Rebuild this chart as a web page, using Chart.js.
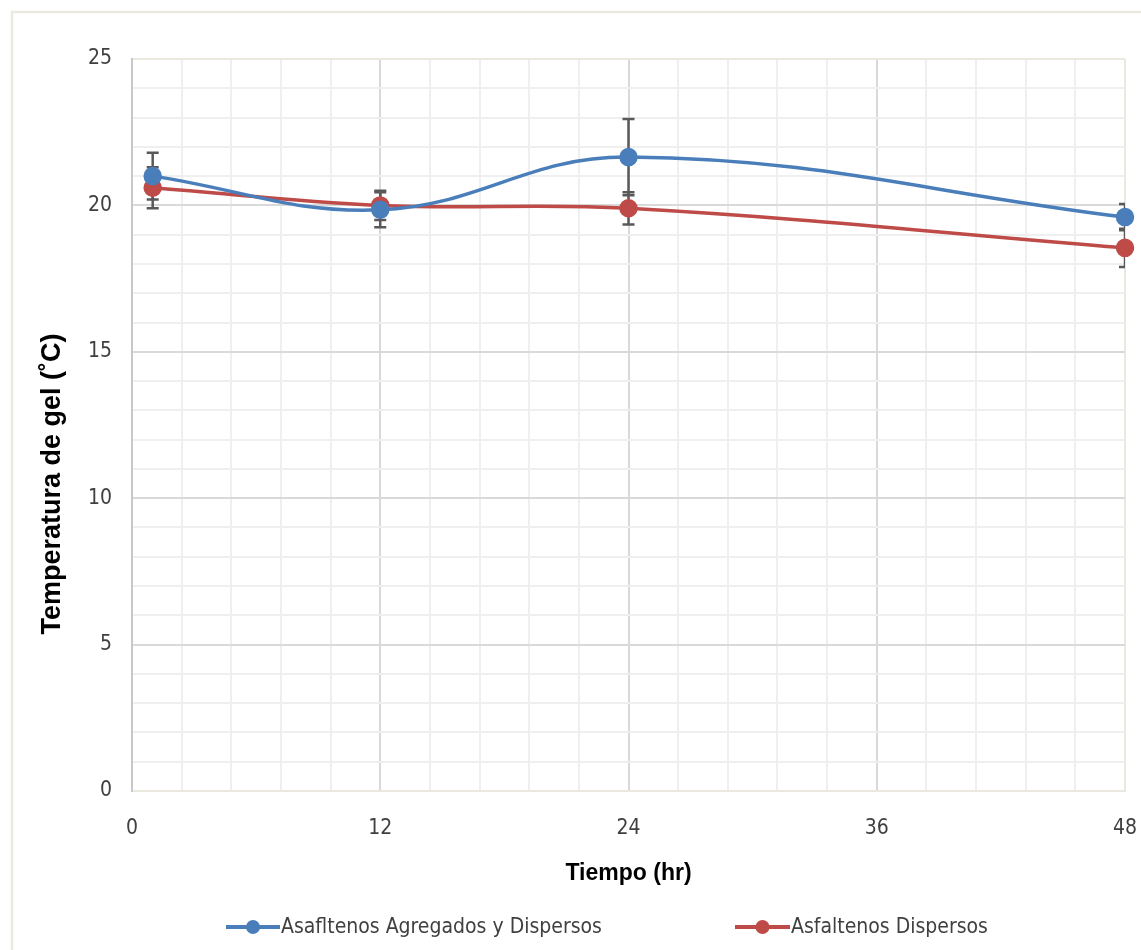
<!DOCTYPE html>
<html>
<head>
<meta charset="utf-8">
<script src="https://cdn.jsdelivr.net/npm/chart.js@4"></script>
<style>
  html, body { margin: 0; padding: 0; background: #fff; }
  canvas { display: block; }
</style>
</head>
<body>
<canvas id="chart" width="1141" height="950"></canvas>
<script>
// datos
const tiempos = [1, 12, 24, 48];
const agregadosDispersos = [21.0, 19.85, 21.65, 19.6];
const agregadosError = [0.8, 0.6, 1.3, 0.45];
const dispersos = [20.6, 20.0, 19.9, 18.55];
const dispersosError = [0.7, 0.5, 0.55, 0.65];
const seriesNames = ['Asafltenos Agregados y Dispersos', 'Asfaltenos Dispersos'];
const seriesColors = ['#4a7ebb', '#be4b48'];
const yTitle = 'Temperatura de gel (˚C)';
const xMajor = 12;
const yMajor = 5;

const narrow = '"Liberation Sans Narrow", "DejaVu Sans Condensed", "Liberation Sans", Arial, sans-serif';
const wide = '"Liberation Sans", Arial, sans-serif';

function toPoints(values) {
    return tiempos.map((t, i) => ({ x: t, y: values[i] }));
}

// marco exterior del grafico
const frame = {
    id: 'frame',
    beforeDraw(chart) {
        const ctx = chart.ctx;
        ctx.save();
        ctx.strokeStyle = '#ebe9df';
        ctx.lineWidth = 2.5;
        ctx.strokeRect(12, 12, 1200, 1000);
        ctx.restore();
    }
};

// barras de error
const errorBars = {
    id: 'errorBars',
    beforeDatasetsDraw(chart) {
        const { ctx, chartArea, scales: { x, y } } = chart;
        ctx.save();
        ctx.beginPath();
        ctx.rect(chartArea.left - 1, chartArea.top, chartArea.width + 1, chartArea.height);
        ctx.clip();
        ctx.strokeStyle = '#595959';
        ctx.lineWidth = 2.5;
        chart.data.datasets.forEach(ds => {
            ds.data.forEach((p, i) => {
                const e = ds.errors[i];
                const px = x.getPixelForValue(p.x);
                const top = y.getPixelForValue(p.y + e);
                const bot = y.getPixelForValue(p.y - e);
                ctx.beginPath();
                ctx.moveTo(px, top); ctx.lineTo(px, bot);
                ctx.moveTo(px - 6, top); ctx.lineTo(px + 6, top);
                ctx.moveTo(px - 6, bot); ctx.lineTo(px + 6, bot);
                ctx.stroke();
            });
        });
        ctx.restore();
    }
};

// titulo del eje y y leyenda con linea y marcador
const extras = {
    id: 'extras',
    afterDraw(chart) {
        const ctx = chart.ctx;
        ctx.save();
        ctx.translate(53, 484);
        ctx.rotate(-Math.PI / 2);
        ctx.fillStyle = '#000';
        ctx.font = 'bold 27px ' + wide;
        ctx.textAlign = 'center';
        ctx.textBaseline = 'middle';
        ctx.fillText(yTitle, 0, 0);
        ctx.restore();

        const items = [{ x0: 226, x1: 280 }, { x0: 735, x1: 790 }];
        const yy = 927;
        ctx.save();
        chart.data.datasets.forEach((ds, i) => {
            const it = items[i];
            ctx.strokeStyle = ds.borderColor;
            ctx.lineWidth = 4;
            ctx.beginPath();
            ctx.moveTo(it.x0, yy); ctx.lineTo(it.x1, yy);
            ctx.stroke();
            ctx.fillStyle = ds.pointBackgroundColor;
            ctx.beginPath();
            ctx.arc((it.x0 + it.x1) / 2, yy, 7, 0, Math.PI * 2);
            ctx.fill();
            ctx.fillStyle = '#404040';
            ctx.font = '21px ' + narrow;
            ctx.textBaseline = 'middle';
            ctx.textAlign = 'left';
            ctx.fillText(ds.label, it.x1 + 1, yy + 1);
        });
        ctx.restore();
    }
};

const datasets = [
    { values: agregadosDispersos, errors: agregadosError },
    { values: dispersos, errors: dispersosError }
].map((s, i) => ({
    label: seriesNames[i],
    data: toPoints(s.values),
    errors: s.errors,
    borderColor: seriesColors[i],
    backgroundColor: seriesColors[i],
    pointBackgroundColor: seriesColors[i],
    pointBorderColor: seriesColors[i],
    pointRadius: 7.5,
    pointHoverRadius: 7.5,
    borderWidth: 3.5,
    tension: 0.4,
    clip: false
}));

new Chart(document.getElementById('chart'), {
    type: 'line',
    data: { datasets: datasets },
    options: {
        responsive: false,
        animation: false,
        layout: { padding: { top: 59, right: 0, left: 0, bottom: 0 } },
        plugins: {
            legend: { display: false },
            tooltip: { enabled: false }
        },
        scales: {
            x: {
                type: 'linear',
                min: 0,
                max: 48,
                afterFit(scale) {
                    scale.height = 159;
                    scale.paddingLeft = 0;
                    scale.paddingRight = 16;
                },
                ticks: {
                    stepSize: 2.4,
                    autoSkip: false,
                    maxRotation: 0,
                    padding: 25,
                    color: '#404040',
                    font: { family: narrow, size: 21 },
                    callback: v => (v % xMajor === 0 ? v : '')
                },
                grid: {
                    drawTicks: false,
                    lineWidth: 2,
                    color: c => (c.tick.value === 48 ? '#ebe9df' : c.tick.value % xMajor === 0 ? '#d9d9d9' : '#efefef')
                },
                border: { color: '#ebe9df', width: 2 },
                title: {
                    display: true,
                    text: 'Tiempo (hr)',
                    color: '#000',
                    font: { family: wide, size: 23, weight: 'bold' },
                    padding: { top: 0, bottom: 63 }
                }
            },
            y: {
                min: 0,
                max: 25,
                afterFit(scale) { scale.width = 132; },
                ticks: {
                    stepSize: 1,
                    autoSkip: false,
                    padding: 20,
                    color: '#404040',
                    font: { family: narrow, size: 21 },
                    callback: v => (v % yMajor === 0 ? v : '')
                },
                grid: {
                    drawTicks: false,
                    lineWidth: 2,
                    color: c => (c.tick.value === 25 || c.tick.value === 0 ? '#ebe9df' : c.tick.value % yMajor === 0 ? '#d9d9d9' : '#efefef')
                },
                border: { color: '#c8c8c8', width: 2 }
            }
        }
    },
    plugins: [frame, errorBars, extras]
});
</script>
</body>
</html>
